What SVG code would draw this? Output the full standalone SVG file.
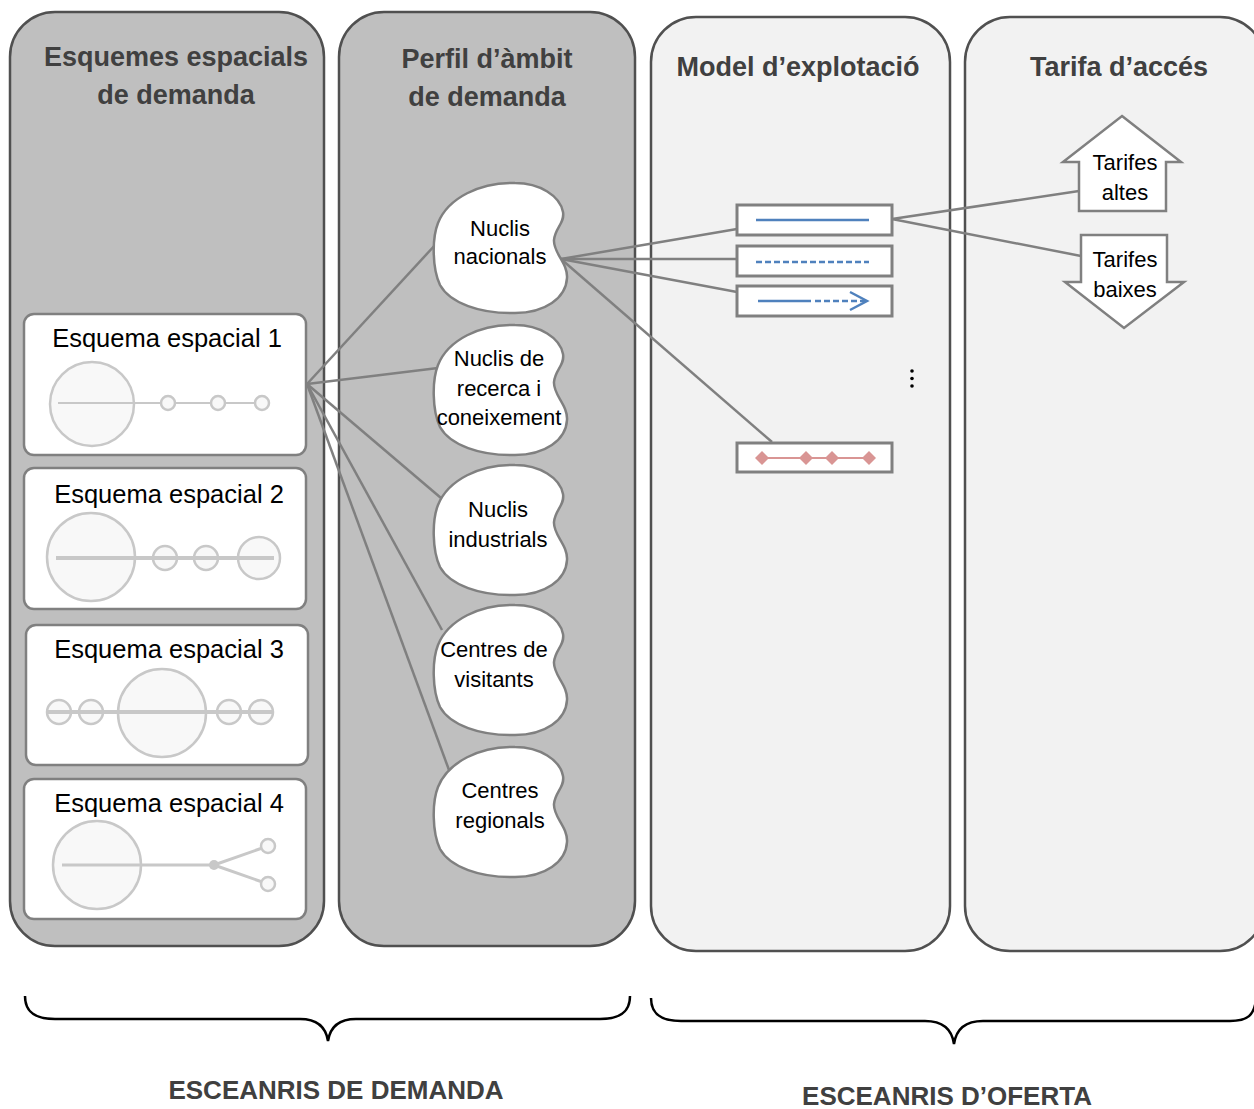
<svg xmlns="http://www.w3.org/2000/svg" xmlns:xlink="http://www.w3.org/1999/xlink" width="1254" height="1109" viewBox="0 0 1254 1109">
<style>
.panelDark{fill:#bfbfbf;stroke:#505050;stroke-width:2.5}
.panelLight{fill:#f2f2f2;stroke:#505050;stroke-width:2.5}
.head{font-family:"Liberation Sans",Arial,sans-serif;font-weight:bold;font-size:27px;fill:#404040;text-anchor:middle}
.foot{font-family:"Liberation Sans",Arial,sans-serif;font-weight:bold;font-size:26px;fill:#404040;text-anchor:middle}
.box{fill:#ffffff;stroke:#808080;stroke-width:2.5}
.title{font-family:"Liberation Sans",Arial,sans-serif;font-size:25.5px;fill:#000;text-anchor:middle}
.lbl{font-family:"Liberation Sans",Arial,sans-serif;font-size:22px;fill:#000;text-anchor:middle}
.sc{fill:#f8f8f8;stroke:#c8c8c8;stroke-width:2.5}
.sl{stroke:#c8c8c8;fill:none}
.cloud{fill:#ffffff;stroke:#808080;stroke-width:2.5}
.conn{stroke:#808080;stroke-width:2.5;fill:none}
.mbox{fill:#ffffff;stroke:#808080;stroke-width:3}
.blue{stroke:#4f81bd;stroke-width:2.5;fill:none}
.brace{stroke:#000;stroke-width:2.5;fill:none}
</style>
<defs>
<path id="cloudShape" d="M15,-65 C40,-65 60,-52 63,-36 C65,-25 55,-20 54,-8 C53,5 68,15 67,30 C66,50 45,65 15,65 C-20,66 -50,55 -60,37 C-68,20 -68,-10 -62,-25 C-52,-50 -20,-66 15,-65 Z"/>
</defs>

<!-- Panels -->
<g id="panel-esquemes">
<rect class="panelDark" x="10" y="12" width="314" height="934" rx="45" ry="45"/>
<text class="head" x="176" y="66">Esquemes espacials</text>
<text class="head" x="176" y="104">de demanda</text>
</g>
<g id="panel-perfil">
<rect class="panelDark" x="339" y="12" width="296" height="934" rx="45" ry="45"/>
<text class="head" x="487" y="68">Perfil d’àmbit</text>
<text class="head" x="487" y="106">de demanda</text>
</g>
<g id="panel-model">
<rect class="panelLight" x="651" y="17" width="299" height="934" rx="45" ry="45"/>
<text class="head" x="798" y="76">Model d’explotació</text>
</g>
<g id="panel-tarifa">
<rect class="panelLight" x="965" y="17" width="300" height="934" rx="45" ry="45"/>
<text class="head" x="1119" y="76">Tarifa d’accés</text>
</g>

<!-- Schema boxes -->
<g id="esquema1">
<rect class="box" x="24" y="314" width="282" height="141" rx="10"/>
<text class="title" x="167" y="347">Esquema espacial 1</text>
<circle class="sc" cx="92" cy="404" r="42"/>
<line class="sl" x1="58" y1="403" x2="268" y2="403" stroke-width="2"/>
<circle class="sc" cx="168" cy="403" r="7" stroke-width="2"/>
<circle class="sc" cx="218" cy="403" r="7" stroke-width="2"/>
<circle class="sc" cx="262" cy="403" r="7" stroke-width="2"/>
</g>
<g id="esquema2">
<rect class="box" x="24" y="468" width="282" height="141" rx="10"/>
<text class="title" x="169" y="503">Esquema espacial 2</text>
<circle class="sc" cx="91" cy="557" r="44"/>
<circle class="sc" cx="165" cy="558" r="12"/>
<circle class="sc" cx="206" cy="558" r="12"/>
<circle class="sc" cx="259" cy="558" r="21"/>
<line class="sl" x1="56" y1="558" x2="274" y2="558" stroke-width="4"/>
</g>
<g id="esquema3">
<rect class="box" x="26" y="625" width="282" height="140" rx="10"/>
<text class="title" x="169" y="658">Esquema espacial 3</text>
<circle class="sc" cx="59" cy="712" r="12"/>
<circle class="sc" cx="91" cy="712" r="12"/>
<circle class="sc" cx="162" cy="713" r="44"/>
<circle class="sc" cx="229" cy="712" r="12"/>
<circle class="sc" cx="261" cy="712" r="12"/>
<line class="sl" x1="47" y1="712" x2="273" y2="712" stroke-width="4"/>
</g>
<g id="esquema4">
<rect class="box" x="24" y="779" width="282" height="140" rx="10"/>
<text class="title" x="169" y="812">Esquema espacial 4</text>
<circle class="sc" cx="97" cy="865" r="44" stroke-width="3"/>
<line class="sl" x1="62" y1="865" x2="214" y2="865" stroke-width="3"/>
<line class="sl" x1="214" y1="865" x2="268" y2="846" stroke-width="3"/>
<line class="sl" x1="214" y1="865" x2="268" y2="884" stroke-width="3"/>
<circle cx="214" cy="865" r="5" fill="#c8c8c8"/>
<circle class="sc" cx="268" cy="846" r="7" stroke-width="3"/>
<circle class="sc" cx="268" cy="884" r="7" stroke-width="3"/>
</g>

<!-- Connectors -->
<g id="connectors">
<line class="conn" x1="307" y1="384" x2="436" y2="244"/>
<line class="conn" x1="307" y1="384" x2="438" y2="368"/>
<line class="conn" x1="307" y1="384" x2="441" y2="498"/>
<line class="conn" x1="307" y1="384" x2="442" y2="630"/>
<line class="conn" x1="307" y1="384" x2="449" y2="770"/>
<line class="conn" x1="561" y1="259" x2="737" y2="229"/>
<line class="conn" x1="561" y1="259" x2="737" y2="259"/>
<line class="conn" x1="561" y1="259" x2="737" y2="292"/>
<line class="conn" x1="561" y1="259" x2="772" y2="442"/>
<line class="conn" x1="892" y1="219" x2="1079" y2="191"/>
<line class="conn" x1="892" y1="219" x2="1081" y2="256"/>
</g>

<!-- Clouds -->
<g id="nuclis-nacionals">
<use xlink:href="#cloudShape" class="cloud" transform="translate(500,248)"/>
<text class="lbl" x="500" y="236">Nuclis</text>
<text class="lbl" x="500" y="264">nacionals</text>
</g>
<g id="nuclis-recerca">
<use xlink:href="#cloudShape" class="cloud" transform="translate(500,390)"/>
<text class="lbl" x="499" y="366">Nuclis de</text>
<text class="lbl" x="499" y="396">recerca i</text>
<text class="lbl" x="499" y="425">coneixement</text>
</g>
<g id="nuclis-industrials">
<use xlink:href="#cloudShape" class="cloud" transform="translate(500,530)"/>
<text class="lbl" x="498" y="517">Nuclis</text>
<text class="lbl" x="498" y="547">industrials</text>
</g>
<g id="centres-visitants">
<use xlink:href="#cloudShape" class="cloud" transform="translate(500,670)"/>
<text class="lbl" x="494" y="657">Centres de</text>
<text class="lbl" x="494" y="687">visitants</text>
</g>
<g id="centres-regionals">
<use xlink:href="#cloudShape" class="cloud" transform="translate(500,812)"/>
<text class="lbl" x="500" y="798">Centres</text>
<text class="lbl" x="500" y="828">regionals</text>
</g>

<!-- Model boxes -->
<g id="model1">
<rect class="mbox" x="737" y="205" width="155" height="30"/>
<line class="blue" x1="756" y1="220" x2="869" y2="220"/>
</g>
<g id="model2">
<rect class="mbox" x="737" y="246" width="155" height="30"/>
<line class="blue" x1="756" y1="262" x2="869" y2="262" stroke-dasharray="6,3"/>
</g>
<g id="model3">
<rect class="mbox" x="737" y="286" width="155" height="30"/>
<line class="blue" x1="758" y1="301" x2="811" y2="301"/>
<line class="blue" x1="815" y1="301" x2="866" y2="301" stroke-dasharray="6,3"/>
<polyline class="blue" points="850,292 867,301 850,310"/>
</g>
<g id="model4">
<rect class="mbox" x="737" y="443" width="155" height="29"/>
<line x1="762" y1="458" x2="869" y2="458" stroke="#d99594" stroke-width="2"/>
<g fill="#d99594">
<polygon points="762,451 769,458 762,465 755,458"/>
<polygon points="806,451 813,458 806,465 799,458"/>
<polygon points="832,451 839,458 832,465 825,458"/>
<polygon points="869,451 876,458 869,465 862,458"/>
</g>
</g>
<g id="dots" fill="#000">
<circle cx="912" cy="371" r="1.8"/>
<circle cx="912" cy="378.5" r="1.8"/>
<circle cx="912" cy="386" r="1.8"/>
</g>

<!-- Tarifes -->
<g id="tarifes-altes">
<path class="box" d="M1122,116 L1181,162 L1166,162 L1166,211 L1079,211 L1079,162 L1063,162 Z"/>
<text class="lbl" x="1125" y="170">Tarifes</text>
<text class="lbl" x="1125" y="200">altes</text>
</g>
<g id="tarifes-baixes">
<path class="box" d="M1081,235 L1167,235 L1167,282 L1184,282 L1124,328 L1065,282 L1081,282 Z"/>
<text class="lbl" x="1125" y="267">Tarifes</text>
<text class="lbl" x="1125" y="297">baixes</text>
</g>

<!-- Braces -->
<g id="brace-demanda">
<path class="brace" d="M25,996 C25,1012 35,1019 55,1019 L300,1019 C318,1019 326,1028 328,1041 C330,1028 338,1019 356,1019 L600,1019 C620,1019 630,1012 630,996"/>
<text class="foot" x="336" y="1099">ESCEANRIS DE DEMANDA</text>
</g>
<g id="brace-oferta">
<path class="brace" d="M651,998 C651,1014 661,1021 681,1021 L925,1021 C943,1021 952,1030 954,1044 C956,1030 965,1021 983,1021 L1230,1021 C1248,1021 1254,1015 1256,1000"/>
<text class="foot" x="947" y="1105">ESCEANRIS D’OFERTA</text>
</g>
</svg>
